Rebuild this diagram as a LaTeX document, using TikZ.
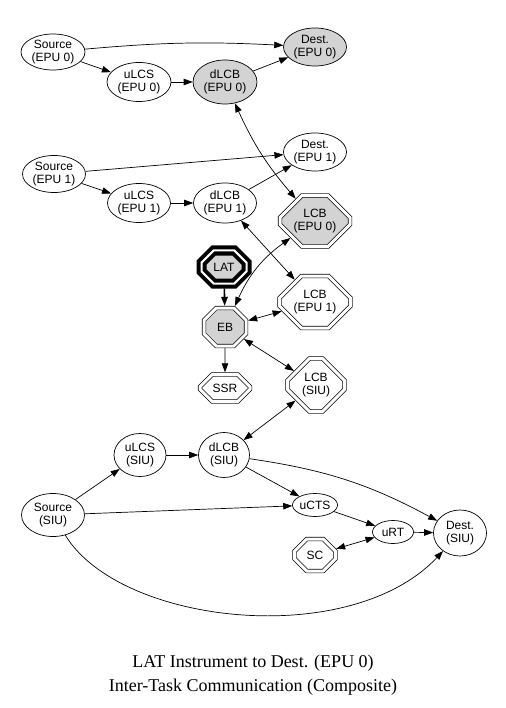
\documentclass[tikz,border=0pt]{standalone}
\usepackage{fontspec}
\setmainfont{Liberation Serif}
\newfontfamily\gvsans{Liberation Sans}
\usetikzlibrary{arrows.meta,shapes.geometric,shapes.misc}
\definecolor{busy}{RGB}{211,211,211}

\begin{document}
\begin{tikzpicture}[x=1pt, y=-1pt, line width=0.7pt, >={Triangle[length=9pt,width=6.5pt]},
    box/.style 2 args={minimum width=#1pt, minimum height=#2pt},
    task/.style={ellipse, draw, inner sep=0pt, align=center, font=\gvsans\fontsize{12}{13}\selectfont},
    lcb/.style={chamfered rectangle, chamfered rectangle xsep=#1, chamfered rectangle ysep=#1, draw, double, double distance=3pt,
      outer sep=2.2pt, inner sep=0pt, align=center, font=\gvsans\fontsize{12}{13}\selectfont},
    lcb/.default=8pt,
    grey/.style={fill=busy}]
  \useasboundingbox (0,0) rectangle (505,708);

  % EPU 0
  \node[task, box={64}{36}] (s0) at (53,52) {Source\\(EPU 0)};
  \node[task, grey, box={63}{38}] (d0) at (315,47) {Dest.\\(EPU 0)};
  \node[task, box={64}{39}] (u0) at (139,82) {uLCS\\(EPU 0)};
  \node[task, grey, box={64}{44}] (l0) at (225,82) {dLCB\\(EPU 0)};
  % EPU 1
  \node[task, box={63}{38}] (d1) at (315,152) {Dest.\\(EPU 1)};
  \node[task, box={63}{37}] (s1) at (54,174) {Source\\(EPU 1)};
  \node[task, box={63}{39}] (u1) at (139,203) {uLCS\\(EPU 1)};
  \node[task, box={63}{40}] (l1) at (225,203) {dLCB\\(EPU 1)};
  % LCBs
  \node[lcb=11pt, grey, box={70}{51}] (c0) at (315,221) {LCB\\(EPU 0)};
  \node[lcb=11pt, box={71}{52}] (c1) at (315,302) {LCB\\(EPU 1)};
  \node[lcb=11pt, box={57}{53}] (cs) at (316,385) {LCB\\(SIU)};
  \node[lcb, grey, box={42}{38}] (eb) at (225,327) {EB};
  \node[lcb, box={50}{27}] (ssr) at (225,388) {SSR};
  \node[lcb, box={41}{32}] (sc) at (315,555) {SC};
  \node[lcb, grey, box={45}{33}, line width=4pt, double distance=2pt, outer sep=5pt] (lat) at (224,267) {LAT};
  % SIU
  \node[task, box={52}{43}] (us) at (140,455) {uLCS\\(SIU)};
  \node[task, box={51}{45}] (ls) at (224,455) {dLCB\\(SIU)};
  \node[task, box={63}{43}] (ss) at (53,515) {Source\\(SIU)};
  \node[task, box={45}{23}] (ct) at (315,505) {uCTS};
  \node[task, box={41}{23}] (rt) at (393,532) {uRT};
  \node[task, box={53}{46}] (ds) at (460,533) {Dest.\\(SIU)};

  \draw[->] (s0) to[bend left=4] (d0);
  \draw[->] (s0) -- (u0);
  \draw[->] (u0) -- (l0);
  \draw[->] (l0) -- (d0);
  \draw[<->] (l0) to[bend right=8] (c0);
  \draw[->] (s1) -- (d1);
  \draw[->] (s1) -- (u1);
  \draw[->] (u1) -- (l1);
  \draw[->] (l1) -- (d1);
  \draw[<->] (l1) -- (c1);
  \draw[<->] (eb) to[bend left=15] (c0);
  \draw[<->] (eb) -- (c1);
  \draw[<->] (eb) -- (cs);
  \draw[->, line width=1.6pt] (lat) -- (eb);
  \draw[->] (eb) -- (ssr);
  \draw[<->] (ls) -- (cs);
  \draw[->] (ss) -- (us);
  \draw[->] (us) -- (ls);
  \draw[->] (ls) -- (ct);
  \draw[->] (ls) to[bend left=10] (ds);
  \draw[->] (ss) -- (ct);
  \draw[->] (ct) -- (rt);
  \draw[->] (rt) -- (ds);
  \draw[<->] (sc) -- (rt);
  \draw[->] (ss) .. controls (120,625) and (350,650) .. (ds);

  \node[align=center, font=\fontsize{18}{24}\selectfont] (title) at (253,675)
    {LAT Instrument to Dest. (EPU 0)\\Inter-Task Communication (Composite)};
\end{tikzpicture}
\end{document}
